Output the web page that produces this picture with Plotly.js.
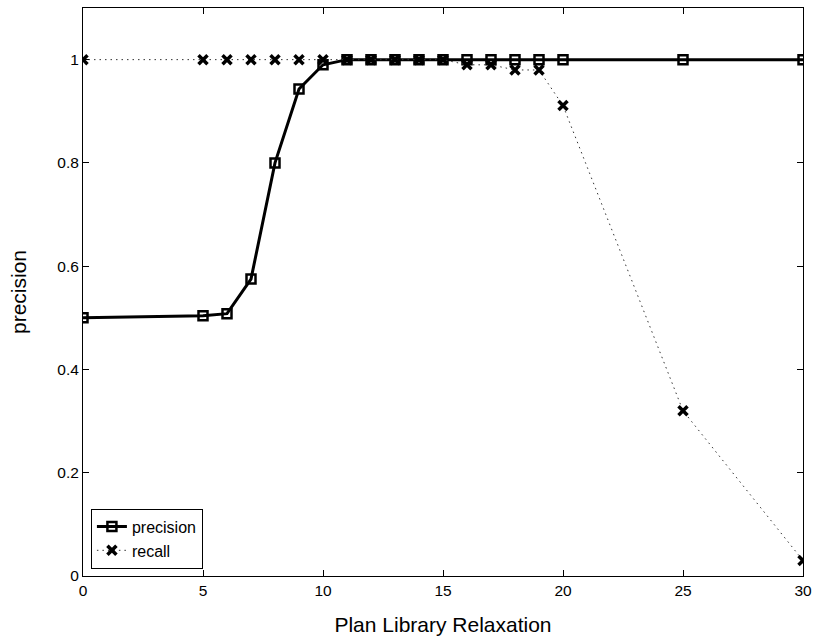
<!DOCTYPE html>
<html>
<head>
<meta charset="utf-8">
<script src="https://cdn.plot.ly/plotly-3.0.1.min.js"></script>
<style>
html,body{margin:0;padding:0;background:#fff;}
#chart{width:815px;height:640px;}
</style>
</head>
<body>
<div id="chart"></div>
<script>
// Data
const relaxation = [0, 5, 6, 7, 8, 9, 10, 11, 12, 13, 14, 15, 16, 17, 18, 19, 20, 25, 30];
const precision  = [0.500, 0.504, 0.508, 0.575, 0.800, 0.943, 0.990, 1, 1, 1, 1, 1, 1, 1, 1, 1, 1, 1, 1];
const recall     = [1, 1, 1, 1, 1, 1, 1, 1, 1, 1, 1, 1, 0.99, 0.99, 0.98, 0.98, 0.911, 0.32, 0.03];
const xTicks = [0, 5, 10, 15, 20, 25, 30];
const yTicks = [0, 0.2, 0.4, 0.6, 0.8, 1];

const FONT = "Liberation Sans, Arial, Helvetica, sans-serif";

const traces = [
  {
    x: relaxation, y: precision, name: 'precision', type: 'scatter', mode: 'lines+markers',
    line: {color: '#000', width: 3},
    marker: {symbol: 'square-open', size: 9, color: '#000', line: {width: 2.5, color: '#000'}}
  },
  {
    x: relaxation, y: recall, name: 'recall', type: 'scatter', mode: 'lines+markers',
    line: {color: '#333', width: 1, dash: '1.5px,4px'},
    marker: {symbol: 'x-thin-open', size: 9, color: '#000', line: {width: 3.5, color: '#000'}}
  }
];

const axisCommon = {
  showgrid: false, zeroline: false, showline: true, linecolor: '#000', linewidth: 1,
  mirror: 'ticks', ticks: 'inside', ticklen: 6, tickwidth: 1, tickcolor: '#000',
  tickfont: {family: FONT, size: 15.5, color: '#000'}
};

const layout = {
  width: 815, height: 640,
  margin: {l: 83, r: 12, t: 8, b: 64},
  paper_bgcolor: '#fff', plot_bgcolor: '#fff',
  font: {family: FONT, color: '#000'},
  xaxis: Object.assign({}, axisCommon, {
    range: [0, 30], tickvals: xTicks,
    title: {text: 'Plan Library Relaxation', font: {family: FONT, size: 21, color: '#000'}, standoff: 19}
  }),
  yaxis: Object.assign({}, axisCommon, {
    range: [0, 1.1], tickvals: yTicks,
    title: {text: 'precision', font: {family: FONT, size: 21, color: '#000'}, standoff: 24}
  }),
  showlegend: true,
  legend: {
    x: 0.011, y: 0.013, xanchor: 'left', yanchor: 'bottom',
    bgcolor: '#fff', bordercolor: '#000', borderwidth: 1,
    font: {family: FONT, size: 16, color: '#000'},
    tracegroupgap: 0
  }
};

Plotly.newPlot('chart', traces, layout, {displayModeBar: false, staticPlot: true});
</script>
</body>
</html>
